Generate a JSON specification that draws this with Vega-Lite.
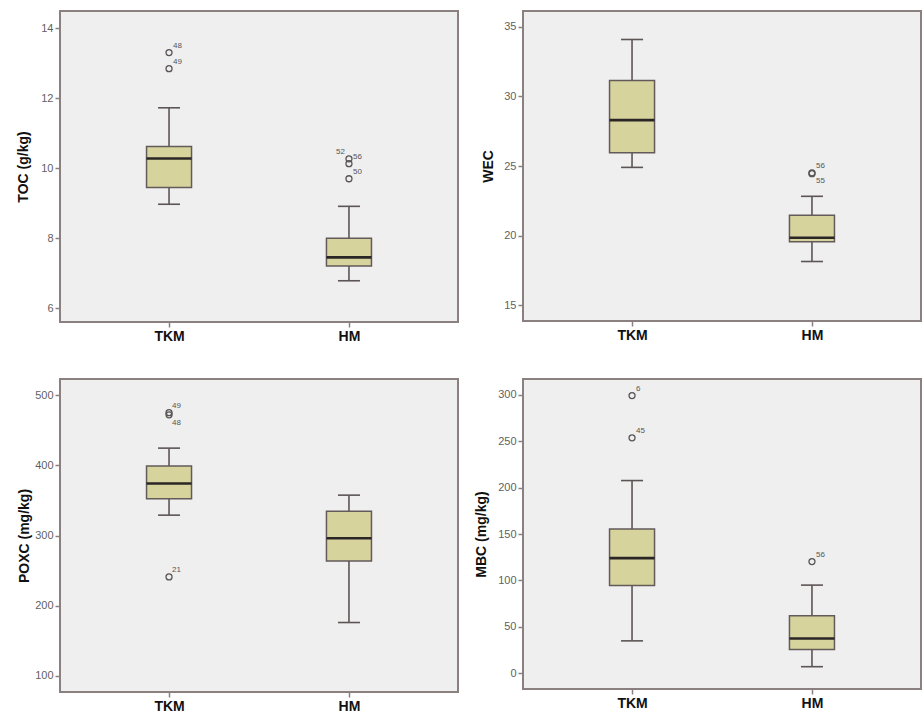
{
  "$schema": "https://vega.github.io/schema/vega-lite/v6.json",
  "padding": {"left": 15, "top": 10, "right": 0, "bottom": 0},
  "background": "white",
  "datasets": {
    "stats": [
      {"var": "TOC", "group": "TKM", "lo": 8.97, "q1": 9.45, "med": 10.28, "q3": 10.62, "hi": 11.73},
      {"var": "TOC", "group": "HM", "lo": 6.78, "q1": 7.2, "med": 7.45, "q3": 8.0, "hi": 8.91},
      {"var": "WEC", "group": "TKM", "lo": 24.9, "q1": 25.95, "med": 28.3, "q3": 31.15, "hi": 34.1},
      {"var": "WEC", "group": "HM", "lo": 18.13, "q1": 19.55, "med": 19.84, "q3": 21.45, "hi": 22.82},
      {"var": "POXC", "group": "TKM", "lo": 329, "q1": 352.5, "med": 374, "q3": 399, "hi": 424.5},
      {"var": "POXC", "group": "HM", "lo": 176, "q1": 263.5, "med": 296, "q3": 334.5, "hi": 357.5},
      {"var": "MBC", "group": "TKM", "lo": 35, "q1": 94.5, "med": 124, "q3": 155.5, "hi": 207.5},
      {"var": "MBC", "group": "HM", "lo": 7.2, "q1": 25.8, "med": 37.5, "q3": 62, "hi": 95}
    ],
    "outliers": [
      {"var": "TOC", "group": "TKM", "value": 13.31, "label": "48"},
      {"var": "TOC", "group": "TKM", "value": 12.85, "label": "49"},
      {"var": "TOC", "group": "HM", "value": 10.27, "label": "52"},
      {"var": "TOC", "group": "HM", "value": 10.13, "label": "56"},
      {"var": "TOC", "group": "HM", "value": 9.7, "label": "50"},
      {"var": "WEC", "group": "HM", "value": 24.5, "label": "56"},
      {"var": "WEC", "group": "HM", "value": 24.45, "label": "55"},
      {"var": "POXC", "group": "TKM", "value": 475, "label": "49"},
      {"var": "POXC", "group": "TKM", "value": 472, "label": "48"},
      {"var": "POXC", "group": "TKM", "value": 241, "label": "21"},
      {"var": "MBC", "group": "TKM", "value": 299, "label": "6"},
      {"var": "MBC", "group": "TKM", "value": 253.5, "label": "45"},
      {"var": "MBC", "group": "HM", "value": 120.3, "label": "56"}
    ]
  },
  "columns": 2,
  "spacing": {"row": 34, "column": 14},
  "concat": [
    {
      "width": 398, "height": 311,
      "layer": [
        {"data": {"name": "stats"}, "transform": [{"filter": "datum.var === 'TOC'"}],
         "mark": {"type": "rule", "color": "#5d5555", "strokeWidth": 1.6},
         "encoding": {
           "x": {"field": "group", "type": "nominal", "scale": {"type": "point", "padding": 0.606, "domain": ["TKM", "HM"]}, "axis": {"title": null}},
           "y": {"field": "lo", "type": "quantitative", "scale": {"domain": [5.6, 14.5], "nice": false, "zero": false}, "axis": {"values": [6, 8, 10, 12, 14], "titlePadding": 9.8}, "title": "TOC (g/kg)"},
           "y2": {"field": "hi"}}},
        {"data": {"name": "stats"}, "transform": [{"filter": "datum.var === 'TOC'"}],
         "mark": {"type": "tick", "size": 22, "thickness": 1.6, "color": "#5d5555", "opacity": 1},
         "encoding": {"x": {"field": "group", "type": "nominal"}, "y": {"field": "lo", "type": "quantitative", "title": "TOC (g/kg)"}}},
        {"data": {"name": "stats"}, "transform": [{"filter": "datum.var === 'TOC'"}],
         "mark": {"type": "tick", "size": 22, "thickness": 1.6, "color": "#5d5555", "opacity": 1},
         "encoding": {"x": {"field": "group", "type": "nominal"}, "y": {"field": "hi", "type": "quantitative", "title": "TOC (g/kg)"}}},
        {"data": {"name": "stats"}, "transform": [{"filter": "datum.var === 'TOC'"}],
         "mark": {"type": "bar", "width": 45, "fill": "#d7d39d", "stroke": "#635a5a", "strokeWidth": 1.5, "opacity": 1},
         "encoding": {"x": {"field": "group", "type": "nominal"}, "y": {"field": "q1", "type": "quantitative", "title": "TOC (g/kg)"}, "y2": {"field": "q3"}}},
        {"data": {"name": "stats"}, "transform": [{"filter": "datum.var === 'TOC'"}],
         "mark": {"type": "tick", "size": 45, "thickness": 2.6, "color": "#2a2626", "opacity": 1},
         "encoding": {"x": {"field": "group", "type": "nominal"}, "y": {"field": "med", "type": "quantitative", "title": "TOC (g/kg)"}}},
        {"data": {"name": "outliers"}, "transform": [{"filter": "datum.var === 'TOC'"}],
         "mark": {"type": "point", "shape": "circle", "size": 36, "filled": false, "stroke": "#5a5555", "strokeWidth": 1.3, "opacity": 1},
         "encoding": {"x": {"field": "group", "type": "nominal"}, "y": {"field": "value", "type": "quantitative", "title": "TOC (g/kg)"}}},
        {"data": {"name": "outliers"}, "transform": [{"filter": "datum.var === 'TOC' && datum.label !== '52'"}],
         "mark": {"type": "text", "fontSize": 8, "color": "#555", "align": "left", "baseline": "middle", "dx": 4, "dy": -7},
         "encoding": {"x": {"field": "group", "type": "nominal"}, "y": {"field": "value", "type": "quantitative", "title": "TOC (g/kg)"}, "text": {"field": "label"}}},
        {"data": {"name": "outliers"}, "transform": [{"filter": "datum.var === 'TOC' && datum.label === '52'"}],
         "mark": {"type": "text", "fontSize": 8, "color": "#555", "align": "right", "baseline": "middle", "dx": -4, "dy": -7},
         "encoding": {"x": {"field": "group", "type": "nominal"}, "y": {"field": "value", "type": "quantitative", "title": "TOC (g/kg)"}, "text": {"field": "label"}}}
      ]
    },
    {
      "width": 398, "height": 310,
      "layer": [
        {"data": {"name": "stats"}, "transform": [{"filter": "datum.var === 'WEC'"}],
         "mark": {"type": "rule", "color": "#5d5555", "strokeWidth": 1.6},
         "encoding": {
           "x": {"field": "group", "type": "nominal", "scale": {"type": "point", "padding": 0.606, "domain": ["TKM", "HM"]}, "axis": {"title": null}},
           "y": {"field": "lo", "type": "quantitative", "scale": {"domain": [13.85, 36.15], "nice": false, "zero": false}, "axis": {"values": [15, 20, 25, 30, 35], "titlePadding": 8.3}, "title": "WEC"},
           "y2": {"field": "hi"}}},
        {"data": {"name": "stats"}, "transform": [{"filter": "datum.var === 'WEC'"}],
         "mark": {"type": "tick", "size": 22, "thickness": 1.6, "color": "#5d5555", "opacity": 1},
         "encoding": {"x": {"field": "group", "type": "nominal"}, "y": {"field": "lo", "type": "quantitative", "title": "WEC"}}},
        {"data": {"name": "stats"}, "transform": [{"filter": "datum.var === 'WEC'"}],
         "mark": {"type": "tick", "size": 22, "thickness": 1.6, "color": "#5d5555", "opacity": 1},
         "encoding": {"x": {"field": "group", "type": "nominal"}, "y": {"field": "hi", "type": "quantitative", "title": "WEC"}}},
        {"data": {"name": "stats"}, "transform": [{"filter": "datum.var === 'WEC'"}],
         "mark": {"type": "bar", "width": 45, "fill": "#d7d39d", "stroke": "#635a5a", "strokeWidth": 1.5, "opacity": 1},
         "encoding": {"x": {"field": "group", "type": "nominal"}, "y": {"field": "q1", "type": "quantitative", "title": "WEC"}, "y2": {"field": "q3"}}},
        {"data": {"name": "stats"}, "transform": [{"filter": "datum.var === 'WEC'"}],
         "mark": {"type": "tick", "size": 45, "thickness": 2.6, "color": "#2a2626", "opacity": 1},
         "encoding": {"x": {"field": "group", "type": "nominal"}, "y": {"field": "med", "type": "quantitative", "title": "WEC"}}},
        {"data": {"name": "outliers"}, "transform": [{"filter": "datum.var === 'WEC'"}],
         "mark": {"type": "point", "shape": "circle", "size": 36, "filled": false, "stroke": "#5a5555", "strokeWidth": 1.3, "opacity": 1},
         "encoding": {"x": {"field": "group", "type": "nominal"}, "y": {"field": "value", "type": "quantitative", "title": "WEC"}}},
        {"data": {"name": "outliers"}, "transform": [{"filter": "datum.var === 'WEC' && datum.label !== '55'"}],
         "mark": {"type": "text", "fontSize": 8, "color": "#555", "align": "left", "baseline": "middle", "dx": 4, "dy": -7},
         "encoding": {"x": {"field": "group", "type": "nominal"}, "y": {"field": "value", "type": "quantitative", "title": "WEC"}, "text": {"field": "label"}}},
        {"data": {"name": "outliers"}, "transform": [{"filter": "datum.var === 'WEC' && datum.label === '55'"}],
         "mark": {"type": "text", "fontSize": 8, "color": "#555", "align": "left", "baseline": "middle", "dx": 4, "dy": 7},
         "encoding": {"x": {"field": "group", "type": "nominal"}, "y": {"field": "value", "type": "quantitative", "title": "WEC"}, "text": {"field": "label"}}}
      ]
    },
    {
      "width": 398, "height": 313,
      "layer": [
        {"data": {"name": "stats"}, "transform": [{"filter": "datum.var === 'POXC'"}],
         "mark": {"type": "rule", "color": "#5d5555", "strokeWidth": 1.6},
         "encoding": {
           "x": {"field": "group", "type": "nominal", "scale": {"type": "point", "padding": 0.606, "domain": ["TKM", "HM"]}, "axis": {"title": null}},
           "y": {"field": "lo", "type": "quantitative", "scale": {"domain": [77, 523], "nice": false, "zero": false}, "axis": {"values": [100, 200, 300, 400, 500], "titlePadding": 3.6}, "title": "POXC (mg/kg)"},
           "y2": {"field": "hi"}}},
        {"data": {"name": "stats"}, "transform": [{"filter": "datum.var === 'POXC'"}],
         "mark": {"type": "tick", "size": 22, "thickness": 1.6, "color": "#5d5555", "opacity": 1},
         "encoding": {"x": {"field": "group", "type": "nominal"}, "y": {"field": "lo", "type": "quantitative", "title": "POXC (mg/kg)"}}},
        {"data": {"name": "stats"}, "transform": [{"filter": "datum.var === 'POXC'"}],
         "mark": {"type": "tick", "size": 22, "thickness": 1.6, "color": "#5d5555", "opacity": 1},
         "encoding": {"x": {"field": "group", "type": "nominal"}, "y": {"field": "hi", "type": "quantitative", "title": "POXC (mg/kg)"}}},
        {"data": {"name": "stats"}, "transform": [{"filter": "datum.var === 'POXC'"}],
         "mark": {"type": "bar", "width": 45, "fill": "#d7d39d", "stroke": "#635a5a", "strokeWidth": 1.5, "opacity": 1},
         "encoding": {"x": {"field": "group", "type": "nominal"}, "y": {"field": "q1", "type": "quantitative", "title": "POXC (mg/kg)"}, "y2": {"field": "q3"}}},
        {"data": {"name": "stats"}, "transform": [{"filter": "datum.var === 'POXC'"}],
         "mark": {"type": "tick", "size": 45, "thickness": 2.6, "color": "#2a2626", "opacity": 1},
         "encoding": {"x": {"field": "group", "type": "nominal"}, "y": {"field": "med", "type": "quantitative", "title": "POXC (mg/kg)"}}},
        {"data": {"name": "outliers"}, "transform": [{"filter": "datum.var === 'POXC'"}],
         "mark": {"type": "point", "shape": "circle", "size": 36, "filled": false, "stroke": "#5a5555", "strokeWidth": 1.3, "opacity": 1},
         "encoding": {"x": {"field": "group", "type": "nominal"}, "y": {"field": "value", "type": "quantitative", "title": "POXC (mg/kg)"}}},
        {"data": {"name": "outliers"}, "transform": [{"filter": "datum.var === 'POXC' && datum.label !== '48'"}],
         "mark": {"type": "text", "fontSize": 8, "color": "#555", "align": "left", "baseline": "middle", "dx": 3, "dy": -7},
         "encoding": {"x": {"field": "group", "type": "nominal"}, "y": {"field": "value", "type": "quantitative", "title": "POXC (mg/kg)"}, "text": {"field": "label"}}},
        {"data": {"name": "outliers"}, "transform": [{"filter": "datum.var === 'POXC' && datum.label === '48'"}],
         "mark": {"type": "text", "fontSize": 8, "color": "#555", "align": "left", "baseline": "middle", "dx": 3, "dy": 8},
         "encoding": {"x": {"field": "group", "type": "nominal"}, "y": {"field": "value", "type": "quantitative", "title": "POXC (mg/kg)"}, "text": {"field": "label"}}}
      ]
    },
    {
      "width": 398, "height": 310,
      "layer": [
        {"data": {"name": "stats"}, "transform": [{"filter": "datum.var === 'MBC'"}],
         "mark": {"type": "rule", "color": "#5d5555", "strokeWidth": 1.6},
         "encoding": {
           "x": {"field": "group", "type": "nominal", "scale": {"type": "point", "padding": 0.606, "domain": ["TKM", "HM"]}, "axis": {"title": null}},
           "y": {"field": "lo", "type": "quantitative", "scale": {"domain": [-16.8, 316.8], "nice": false, "zero": false}, "axis": {"values": [0, 50, 100, 150, 200, 250, 300], "titlePadding": 9.1}, "title": "MBC (mg/kg)"},
           "y2": {"field": "hi"}}},
        {"data": {"name": "stats"}, "transform": [{"filter": "datum.var === 'MBC'"}],
         "mark": {"type": "tick", "size": 22, "thickness": 1.6, "color": "#5d5555", "opacity": 1},
         "encoding": {"x": {"field": "group", "type": "nominal"}, "y": {"field": "lo", "type": "quantitative", "title": "MBC (mg/kg)"}}},
        {"data": {"name": "stats"}, "transform": [{"filter": "datum.var === 'MBC'"}],
         "mark": {"type": "tick", "size": 22, "thickness": 1.6, "color": "#5d5555", "opacity": 1},
         "encoding": {"x": {"field": "group", "type": "nominal"}, "y": {"field": "hi", "type": "quantitative", "title": "MBC (mg/kg)"}}},
        {"data": {"name": "stats"}, "transform": [{"filter": "datum.var === 'MBC'"}],
         "mark": {"type": "bar", "width": 45, "fill": "#d7d39d", "stroke": "#635a5a", "strokeWidth": 1.5, "opacity": 1},
         "encoding": {"x": {"field": "group", "type": "nominal"}, "y": {"field": "q1", "type": "quantitative", "title": "MBC (mg/kg)"}, "y2": {"field": "q3"}}},
        {"data": {"name": "stats"}, "transform": [{"filter": "datum.var === 'MBC'"}],
         "mark": {"type": "tick", "size": 45, "thickness": 2.6, "color": "#2a2626", "opacity": 1},
         "encoding": {"x": {"field": "group", "type": "nominal"}, "y": {"field": "med", "type": "quantitative", "title": "MBC (mg/kg)"}}},
        {"data": {"name": "outliers"}, "transform": [{"filter": "datum.var === 'MBC'"}],
         "mark": {"type": "point", "shape": "circle", "size": 36, "filled": false, "stroke": "#5a5555", "strokeWidth": 1.3, "opacity": 1},
         "encoding": {"x": {"field": "group", "type": "nominal"}, "y": {"field": "value", "type": "quantitative", "title": "MBC (mg/kg)"}}},
        {"data": {"name": "outliers"}, "transform": [{"filter": "datum.var === 'MBC'"}],
         "mark": {"type": "text", "fontSize": 8, "color": "#555", "align": "left", "baseline": "middle", "dx": 4, "dy": -7},
         "encoding": {"x": {"field": "group", "type": "nominal"}, "y": {"field": "value", "type": "quantitative", "title": "MBC (mg/kg)"}, "text": {"field": "label"}}}
      ]
    }
  ],
  "config": {
    "font": "Liberation Sans",
    "view": {"stroke": "#8a8080", "strokeWidth": 2, "fill": "#efefef"},
    "axis": {"domain": false, "grid": false, "tickColor": "#8a8080", "tickSize": 5, "tickWidth": 1.5},
    "axisY": {"labelFontSize": 11, "labelColor": "#5f5f5f", "labelPadding": 2, "titleFontSize": 14, "titleFontWeight": "bold", "titleColor": "#111111"},
    "axisX": {"labelFontSize": 14, "labelFontWeight": "bold", "labelColor": "#111111", "labelAngle": 0, "labelPadding": 2}
  }
}
